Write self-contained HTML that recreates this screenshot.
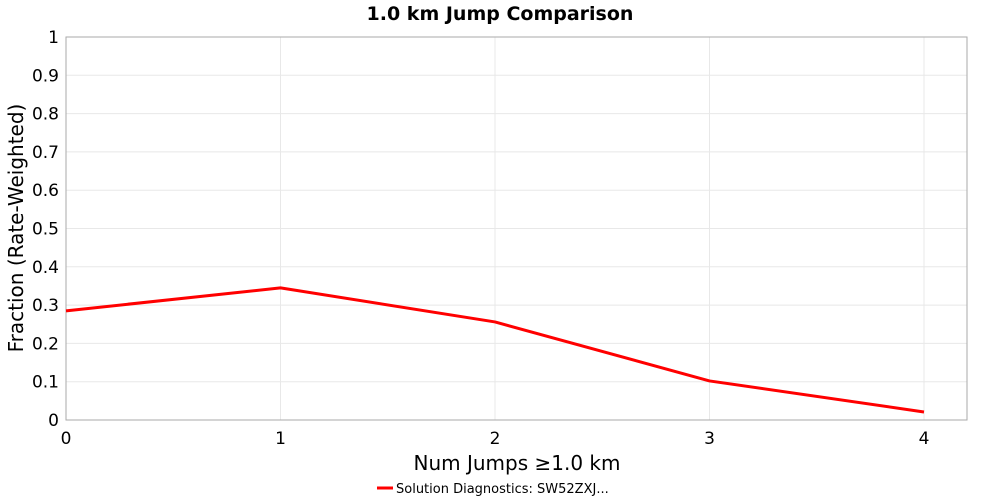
<!DOCTYPE html>
<html><head><meta charset="utf-8"><style>
body{margin:0;background:#fff;}
svg{display:block;font-family:"DejaVu Sans","Liberation Sans",sans-serif;}
</style></head><body>
<svg id="chart" width="1000" height="500" viewBox="0 0 1000 500">
<text x="500" y="20" text-anchor="middle" font-size="19" font-weight="bold">1.0 km Jump Comparison</text>
<g id="grid"></g>
<rect x="66" y="37" width="901" height="383" fill="none" stroke="#aaa"/>
<g id="ticks"></g>
<text x="517" y="470" text-anchor="middle" font-size="20">Num Jumps ≥1.0 km</text>
<text transform="translate(23,228) rotate(-90)" text-anchor="middle" font-size="20">Fraction (Rate-Weighted)</text>
<path id="series" fill="none" stroke="#f00" stroke-width="3" stroke-linejoin="round"/>
<g>
<line x1="377" y1="488" x2="393" y2="488" stroke="#f00" stroke-width="3"/>
<text x="396" y="493" font-size="13">Solution Diagnostics: SW52ZXJ...</text>
</g>
</svg>
<script>
const categories=[0,1,2,3,4];
const values=[0.285,0.345,0.256,0.102,0.021];
const xTicks=["0","1","2","3","4"];
const yTicks=["0","0.1","0.2","0.3","0.4","0.5","0.6","0.7","0.8","0.9","1"];
const X0=66,X1=924,Y0=420,Y1=37;
const xs=v=>X0+(v-0)/(4-0)*(X1-X0);
const ys=v=>Y0-v*(Y0-Y1);
const NS="http://www.w3.org/2000/svg";
const grid=document.getElementById('grid'),ticks=document.getElementById('ticks');
yTicks.forEach(t=>{const y=ys(parseFloat(t));
 const l=document.createElementNS(NS,'line');l.setAttribute('x1',66);l.setAttribute('x2',967);l.setAttribute('y1',y);l.setAttribute('y2',y);l.setAttribute('stroke','#e8e8e8');
 
 grid.appendChild(l);
 const tx=document.createElementNS(NS,'text');tx.setAttribute('x',59);tx.setAttribute('y',y+6);tx.setAttribute('text-anchor','end');tx.setAttribute('font-size','17');tx.textContent=t;
 
 ticks.appendChild(tx);});
xTicks.forEach(t=>{const x=xs(parseFloat(t));
 const l=document.createElementNS(NS,'line');l.setAttribute('x1',x);l.setAttribute('x2',x);l.setAttribute('y1',37);l.setAttribute('y2',420);l.setAttribute('stroke','#e8e8e8');
 
 grid.appendChild(l);
 const tx=document.createElementNS(NS,'text');tx.setAttribute('x',x);tx.setAttribute('y',444);tx.setAttribute('text-anchor','middle');tx.setAttribute('font-size','17');tx.textContent=t;
 
 ticks.appendChild(tx);});
document.getElementById('series').setAttribute('d',categories.map((c,i)=>(i?'L':'M')+xs(c)+','+ys(values[i])).join(' '));
</script>
</body></html>
